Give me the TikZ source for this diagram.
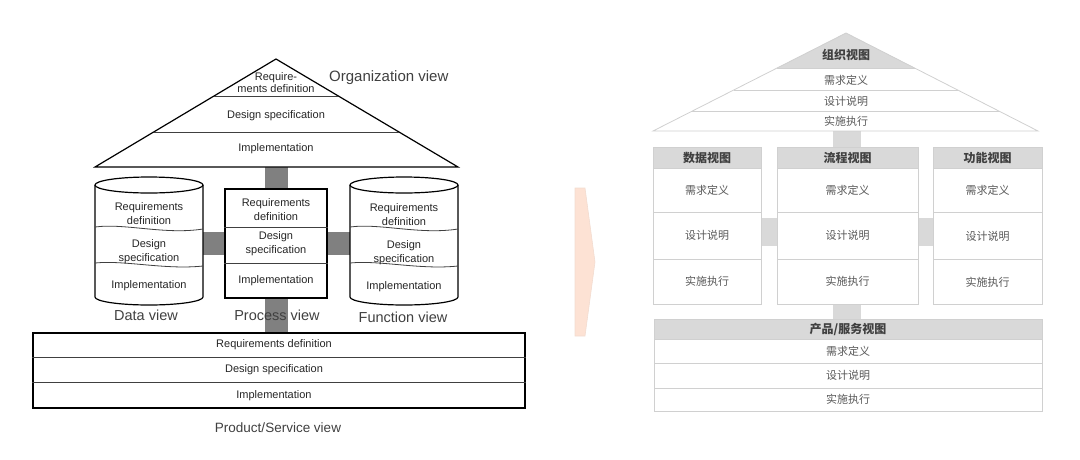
\documentclass[tikz,border=0pt]{standalone}
\usepackage{fontspec}
\setmainfont{Liberation Sans}
\newfontfamily\cjk{Noto Sans CJK SC}
\usetikzlibrary{backgrounds}
\definecolor{ltext}{HTML}{262626}
\definecolor{lview}{HTML}{404040}
\definecolor{lbarc}{HTML}{808080}
\definecolor{rfill}{HTML}{D9D9D9}
\definecolor{rline}{HTML}{D0D0D0}
\definecolor{rtext}{HTML}{595959}
\definecolor{rhtext}{HTML}{404040}
\definecolor{peach}{HTML}{FDE2D4}
\definecolor{peachline}{HTML}{F2DCD0}
\begin{document}
\begin{tikzpicture}[x=1pt,y=-1pt,
  ltxt/.style={text=ltext, font=\fontsize{11}{14}\selectfont, align=center, inner sep=0pt},
  lviewlab/.style={text=lview, font=\fontsize{14.5}{16}\selectfont, inner sep=0pt},
  lline/.style={draw=black, line width=1.2pt},
  ldiv/.style={draw=black!75, line width=0.8pt},
  lbar/.style={draw=lbarc, line width=23pt},
  lbox/.style={lline, fill=white, inner sep=0pt},
  rhead/.style={draw=rline, line width=0.8pt, fill=rfill, text=rhtext, inner sep=0pt, font=\cjk\bfseries\fontsize{12}{14}\selectfont},
  rrow/.style={draw=rline, line width=0.8pt, fill=white, text=rtext, inner sep=0pt, font=\cjk\fontsize{11}{13}\selectfont},
  rtxt/.style={text=rtext, inner sep=0pt, font=\cjk\fontsize{11}{13}\selectfont},
  rbar/.style={draw=rfill, line width=28pt}
]
\useasboundingbox (0,0) rectangle (1080,459);

% ================= LEFT: ARIS house =================
% Organization view (triangle)
\draw[lline, fill=white, line join=miter] (276,59) -- (458,167) -- (95,167) -- cycle;
\draw[ldiv] (214,96) -- (338,96);
\draw[ldiv] (154,132) -- (399,132);
\coordinate (orgbase) at (276,167);
\node[ltxt, font=\fontsize{11}{12}\selectfont] (org1) at (276,83) {Require-\\ments definition};
\node[ltxt] (org2) at (276,116) {Design specification};
\node[ltxt] (org3) at (276,149) {Implementation};
\node[lviewlab, anchor=west, font=\fontsize{15}{17}\selectfont] (orglab) at (329,78) {Organization view};

% Data view cylinder
\node[minimum width=108pt, minimum height=128pt, inner sep=0pt] (dcyl) at (149,241) {};
\draw[lline, fill=white] (95,185) -- (95,297) arc[start angle=180, end angle=0, x radius=54, y radius=8] -- (203,185);
\draw[lline, fill=white] (149,185) ellipse[x radius=54, y radius=8];
\draw[ldiv] (95,227) .. controls (125,223) and (165,235) .. (203,229);
\draw[ldiv] (95,263) .. controls (125,260) and (165,270) .. (203,266);
\node[ltxt] (d1) at (149,214) {Requirements\\definition};
\node[ltxt] (d2) at (149,252) {Design\\specification};
\node[ltxt] (d3) at (149,286) {Implementation};

% Process view box
\node[lbox, minimum width=102pt, minimum height=109pt] (proc) at (276,243.5) {};
\draw[ldiv] (proc.west |- 0,227) -- (proc.east |- 0,227);
\draw[ldiv] (proc.west |- 0,263) -- (proc.east |- 0,263);
\node[ltxt] (p1) at (276,209.5) {Requirements\\definition};
\node[ltxt] (p2) at (276,244) {Design\\specification};
\node[ltxt] (p3) at (276,281) {Implementation};

% Function view cylinder
\node[minimum width=108pt, minimum height=128pt, inner sep=0pt] (fcyl) at (404,241) {};
\draw[lline, fill=white] (350,185) -- (350,297) arc[start angle=180, end angle=0, x radius=54, y radius=8] -- (458,185);
\draw[lline, fill=white] (404,185) ellipse[x radius=54, y radius=8];
\draw[ldiv] (350,227) .. controls (380,223) and (420,235) .. (458,229);
\draw[ldiv] (350,263) .. controls (380,260) and (420,270) .. (458,266);
\node[ltxt] (f1) at (404,215) {Requirements\\definition};
\node[ltxt] (f2) at (404,252.5) {Design\\specification};
\node[ltxt] (f3) at (404,287) {Implementation};

% Product/Service view box
\node[lbox, minimum width=492pt, minimum height=75pt] (prod) at (279,370.5) {};
\draw[ldiv] (prod.west |- 0,357) -- (prod.east |- 0,357);
\draw[ldiv] (prod.west |- 0,382) -- (prod.east |- 0,382);
\node[ltxt] (s1) at (274,345) {Requirements definition};
\node[ltxt] (s2) at (274,370) {Design specification};
\node[ltxt] (s3) at (274,396) {Implementation};

% Left connectors (grey bars)
\begin{scope}[on background layer]
\draw[lbar] (orgbase) -- (proc.north);
\draw[lbar] (proc.south) -- (proc.south |- prod.north);
\draw[lbar] (dcyl.east |- proc.center) -- (proc.west);
\draw[lbar] (proc.east) -- (fcyl.west |- proc.center);
\end{scope}

% view labels
\node[lviewlab] (dlab) at (146,315) {Data view};
\node[lviewlab] (plab) at (277,315) {Process view};
\node[lviewlab] (flab) at (403,317) {Function view};
\node[lviewlab, font=\fontsize{13.5}{15}\selectfont] (slab) at (278,428) {Product/Service view};

% ================= MIDDLE arrow =================
\fill[peach, draw=peachline, line width=0.6pt] (575,188) -- (585,188) -- (595,262) -- (585,336) -- (575,336) -- cycle;

% ================= RIGHT: Chinese house =================
\fill[rfill] (846,33) -- (915,68) -- (777,68) -- cycle;
\draw[rline, line width=0.8pt, line join=miter] (846,33) -- (1038,131) -- (653,131) -- cycle;
\draw[rline, line width=0.8pt] (777,68) -- (915,68);
\draw[rline, line width=0.8pt] (734,90) -- (958,90);
\draw[rline, line width=0.8pt] (692,111) -- (1000,111);
\coordinate (rorgbase) at (847,131);
\node[rtxt, text=rhtext, font=\cjk\bfseries\fontsize{12}{14}\selectfont] (ro0) at (846,55) {组织视图};
\node[rtxt] (ro1) at (846,80) {需求定义};
\node[rtxt] (ro2) at (846,101) {设计说明};
\node[rtxt] (ro3) at (846,121) {实施执行};

% Data view box
\node[rhead, minimum width=108pt, minimum height=21pt] (rdh) at (707,157.5) {数据视图};
\node[rrow, minimum width=108pt, minimum height=44pt] (rd1) at (707,190) {需求定义};
\node[rrow, minimum width=108pt, minimum height=47pt] (rd2) at (707,235.5) {设计说明};
\node[rrow, minimum width=108pt, minimum height=45pt] (rd3) at (707,281.5) {实施执行};

% Process view box
\node[rhead, minimum width=141pt, minimum height=21pt] (rph) at (847.5,157.5) {流程视图};
\node[rrow, minimum width=141pt, minimum height=44pt] (rp1) at (847.5,190) {需求定义};
\node[rrow, minimum width=141pt, minimum height=47pt] (rp2) at (847.5,235.5) {设计说明};
\node[rrow, minimum width=141pt, minimum height=45pt] (rp3) at (847.5,281.5) {实施执行};

% Function view box
\node[rhead, minimum width=109pt, minimum height=21pt] (rfh) at (987.5,158) {功能视图};
\node[rrow, minimum width=109pt, minimum height=44pt] (rf1) at (987.5,190.5) {需求定义};
\node[rrow, minimum width=109pt, minimum height=47pt] (rf2) at (987.5,236) {设计说明};
\node[rrow, minimum width=109pt, minimum height=45pt] (rf3) at (987.5,282) {实施执行};

% Product/Service view box
\node[rhead, minimum width=388pt, minimum height=20pt] (rsh) at (848,329) {产品/服务视图};
\node[rrow, minimum width=388pt, minimum height=24pt] (rs1) at (848,351) {需求定义};
\node[rrow, minimum width=388pt, minimum height=25pt] (rs2) at (848,375.5) {设计说明};
\node[rrow, minimum width=388pt, minimum height=23pt] (rs3) at (848,399.5) {实施执行};

% Right connectors
\begin{scope}[on background layer]
\draw[rbar] (rorgbase) -- (rorgbase |- rph.north);
\draw[rbar] (rp3.south -| rorgbase) -- (rorgbase |- rsh.north);
\draw[rbar] ([yshift=3.5pt]rd2.east) -- ([yshift=3.5pt]rp2.west);
\draw[rbar] ([yshift=3.5pt]rp2.east) -- ([yshift=3.5pt]rp2.east -| rf2.west);
\end{scope}
\end{tikzpicture}
\end{document}
